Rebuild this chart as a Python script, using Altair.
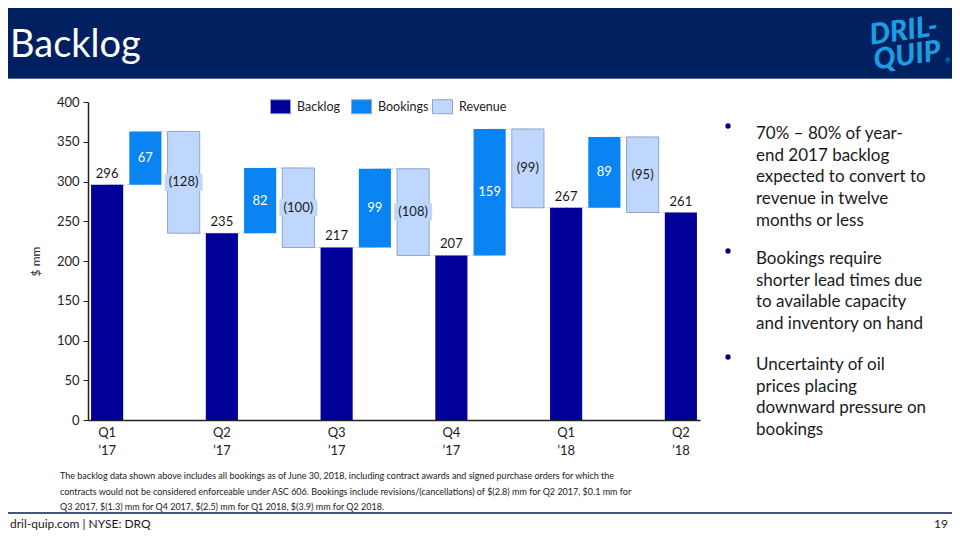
import altair as alt
import pandas as pd

# ---------------- data ----------------
quarters = ["Q1 ’17", "Q2 ’17", "Q3 ’17", "Q4 ’17", "Q1 ’18", "Q2 ’18"]
backlog = [296, 235, 217, 207, 267, 261]
bookings = [67, 82, 99, 159, 89]
revenue = [128, 100, 108, 99, 95]
series = ["Backlog", "Bookings", "Revenue"]
colors = ["#000099", "#0a84f2", "#bfd7fc"]
y_ticks = [0, 50, 100, 150, 200, 250, 300, 350, 400]

title_text = "Backlog"
logo_lines = ["DRIL-", "QUIP"]
bullets = [
    ["70% – 80% of year-", "end 2017 backlog", "expected to convert to", "revenue in twelve", "months or less"],
    ["Bookings require", "shorter lead times due", "to available capacity", "and inventory on hand"],
    ["Uncertainty of oil", "prices placing", "downward pressure on", "bookings"],
]
footnote = [
    "The backlog data shown above includes all bookings as of June 30, 2018, including contract awards and signed purchase orders for which the",
    "contracts would not be considered enforceable under ASC 606.  Bookings include revisions/(cancellations) of $(2.8) mm for Q2 2017, $0.1 mm for",
    "Q3 2017, $(1.3) mm for Q4 2017, $(2.5) mm for Q1 2018, $(3.9) mm for Q2 2018.",
]
footer_left = "dril-quip.com  |  NYSE: DRQ"
page_number = "19"

# ---------------- build waterfall table ----------------
rows = []
for i, q in enumerate(quarters):
    rows.append(dict(key=q, type="Backlog", y0=0, y1=backlog[i], label=str(backlog[i])))
    if i < len(bookings):
        top = backlog[i] + bookings[i]
        rows.append(dict(key=f"bk{i}", type="Bookings", y0=backlog[i], y1=top, label=str(bookings[i])))
        rows.append(dict(key=f"rv{i}", type="Revenue", y0=backlog[i + 1], y1=top, label=f"({revenue[i]})"))
order = [r["key"] for r in rows]
df = pd.DataFrame(rows)
df["mid"] = (df["y0"] + df["y1"]) / 2

conn = []
for a, b in zip(rows[:-1], rows[1:]):
    level = a["y0"] if a["type"] == "Revenue" else a["y1"]
    conn.append(dict(frm=a["key"], to=b["key"], y=level))
conn_df = pd.DataFrame(conn)

FONT = "Lato"
W, H = 612, 318
OX, OY = 88, 102  # page position of plot origin


def px(x):
    return x - OX


def py(y):
    return y - OY


xscale = alt.Scale(domain=order, paddingInner=0.16, paddingOuter=0.08)
yscale = alt.Scale(domain=[0, 400], nice=False)

x_axis = alt.Axis(
    title=None, labelAngle=0, ticks=False, labelOverlap=False, labelBound=False,
    labelExpr="indexof(datum.value, ' ') > 0 ? split(datum.value, ' ') : ''",
    labelLineHeight=18, labelPadding=6, labelFontSize=13, labelFont=FONT,
    labelColor="#222222", domainColor="#222222", domainWidth=1.5,
)
y_axis = alt.Axis(
    title="$ mm", values=y_ticks, grid=False, tickSize=5, tickColor="#222222",
    labelOverlap=False, labelPadding=4, labelFontSize=13, labelFont=FONT,
    labelColor="#222222", domainColor="#222222", domainWidth=1.5, titleFont=FONT,
    titleFontSize=12, titleFontWeight="normal", titleColor="#222222", titlePadding=14,
)


def X(field):
    return alt.X(field, scale=xscale, axis=x_axis)


def Y(field):
    return alt.Y(field, scale=yscale, axis=y_axis)


base = alt.Chart(df)

connectors = alt.Chart(conn_df).mark_rule(color="#c8c8c8", strokeDash=[2, 2], strokeWidth=1).encode(
    x=X("frm:N"), x2="to:N", y=Y("y:Q"),
)

bars = base.mark_bar(stroke="#8ea5c8", strokeWidth=1).encode(
    x=X("key:N"),
    y=Y("y0:Q"),
    y2="y1:Q",
    color=alt.Color(
        "type:N",
        scale=alt.Scale(domain=series, range=colors),
        legend=alt.Legend(
            title=None, orient="none", direction="horizontal",
            legendX=px(270), legendY=py(96),
            symbolType="M-1,-0.7H1V0.7H-1Z", symbolSize=400,
            symbolStrokeColor="#8ea5c8", symbolStrokeWidth=1, symbolOpacity=1,
            labelFont=FONT, labelFontSize=12.5, labelColor="#222222", labelOffset=6,
            columnPadding=1, gridAlign="all",
        ),
    ),
    strokeOpacity=alt.condition("datum.type == 'Revenue'", alt.value(1), alt.value(0)),
)

backlog_labels = base.transform_filter("datum.type == 'Backlog'").mark_text(
    baseline="bottom", dy=-4, font=FONT, fontSize=13, color="#1a1a1a"
).encode(x=X("key:N"), y=Y("y1:Q"), text="label:N")

booking_labels = base.transform_filter("datum.type == 'Bookings'").mark_text(
    baseline="middle", font=FONT, fontSize=13, color="#ffffff"
).encode(x=X("key:N"), y=Y("mid:Q"), text="label:N")

rev = base.transform_filter("datum.type == 'Revenue'").transform_calculate(
    w="length(datum.label) * 8 - 2"
)
rev_boxes = rev.mark_tick(thickness=17, color=colors[2], opacity=1).encode(
    x=X("key:N"), y=Y("mid:Q"), size=alt.Size("w:Q", scale=None),
)
rev_labels = rev.mark_text(baseline="middle", font=FONT, fontSize=13, color="#1a1a1a").encode(
    x=X("key:N"), y=Y("mid:Q"), text="label:N"
)

one = pd.DataFrame({"a": [0]})


def text_at(lines, x, y, size, color="#1a1a1a", weight="normal", align="left",
            line_height=None, baseline="alphabetic", angle=0, style="normal"):
    kw = dict(align=align, baseline=baseline, font=FONT, fontSize=size, color=color,
              fontWeight=weight, lineBreak="\n", fontStyle=style)
    if line_height:
        kw["lineHeight"] = line_height
    if angle:
        kw["angle"] = angle
    d = pd.DataFrame({"t": ["\n".join(lines)]})
    return alt.Chart(d).mark_text(**kw).encode(
        x=alt.value(px(x)), y=alt.value(py(y)), text="t:N"
    )


header = alt.Chart(one).mark_rect(color="#002060").encode(
    x=alt.value(px(-20)), x2=alt.value(px(980)), y=alt.value(py(-20)), y2=alt.value(py(78))
)
header_line = alt.Chart(one).mark_rule(color="#5c6f94", strokeWidth=1).encode(
    x=alt.value(px(-20)), x2=alt.value(px(980)), y=alt.value(py(78.5))
)
footer_line = alt.Chart(one).mark_rule(color="#44577c", strokeWidth=2).encode(
    x=alt.value(px(-20)), x2=alt.value(px(980)), y=alt.value(py(513))
)

title = text_at([title_text], 10, 57, 38, color="#ffffff")
logo = text_at(logo_lines, 905, 40, 29, color="#1b9de2", weight=900, align="center",
               line_height=25, angle=352, style="italic")
logo_r = text_at(["®"], 945, 63, 7, color="#1b9de2")

bullet_layers = []
starts = [139, 264, 370]
for para, y0 in zip(bullets, starts):
    bullet_layers.append(text_at(para, 756, y0, 17, line_height=21.7))
    bullet_layers.append(
        alt.Chart(one).mark_circle(color="#000080", opacity=1, size=28).encode(
            x=alt.value(px(728)), y=alt.value(py(y0 - 13))
        )
    )

foot = text_at(footnote, 60, 479, 9, line_height=15.5)
footer_t = text_at([footer_left], 10, 528, 12)
page_t = text_at([page_number], 948, 528, 12, align="right")

chart = alt.layer(
    header, header_line, title, logo, logo_r,
    connectors, bars, backlog_labels, booking_labels, rev_boxes, rev_labels,
    *bullet_layers, foot, footer_line, footer_t, page_t,
).properties(
    width=W, height=H,
    autosize=alt.AutoSizeParams(type="none"),
    padding={"left": OX - 8, "top": OY - 8, "right": 944 - (OX - 8) - W, "bottom": 524 - (OY - 8) - H},
).configure_view(strokeWidth=0)

chart.save("out.html", embed_options={"renderer": "svg", "actions": False})
